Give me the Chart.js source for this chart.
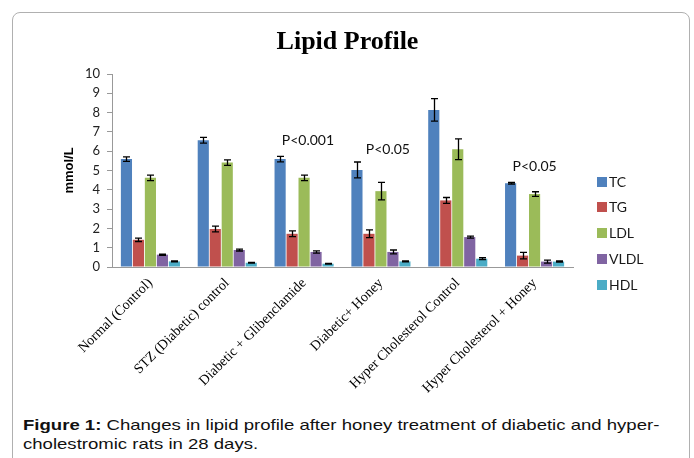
<!DOCTYPE html>
<html>
<head>
<meta charset="utf-8">
<script src="https://cdn.jsdelivr.net/npm/chart.js@4.4.1/dist/chart.umd.min.js"></script>
<style>
  html, body { margin: 0; padding: 0; background: #fff; }
  #wrap { position: relative; width: 694px; height: 458px; overflow: hidden; }
  #frame { position: absolute; left: 12px; top: 12px; width: 678px; height: 470px;
           border: 1.5px solid #b0b0b0; border-radius: 8px; box-sizing: border-box; }
  #chart { position: absolute; left: 0; top: 0; }
  #title { position: absolute; left: 0; width: 695px; top: 26px; text-align: center;
           font-family: "Liberation Serif", "Times New Roman", serif; font-weight: bold;
           font-size: 26px; line-height: 30px; color: #000; }
  #caption { position: absolute; left: 23px; top: 416px; font-family: "Liberation Sans", Arial, sans-serif;
             font-size: 15px; line-height: 18.6px; color: #111; white-space: nowrap;
             transform: scaleX(1.237); transform-origin: 0 0; }
</style>
</head>
<body>
<div id="wrap">
  <div id="frame"></div>
  <canvas id="chart" width="694" height="410"></canvas>
  <div id="title">Lipid Profile</div>
  <div id="caption"><b>Figure 1:</b> Changes in lipid profile after honey treatment of diabetic and hyper-<br>cholestromic rats in 28 days.</div>
</div>
<script>
// ---- data ----
const categories = ["Normal (Control)", "STZ (Diabetic) control", "Diabetic + Glibenclamide",
                    "Diabetic+ Honey", "Hyper Cholesterol Control", "Hyper Cholesterol + Honey"];
const seriesNames = ["TC", "TG", "LDL", "VLDL", "HDL"];
const TC    = [5.59, 6.57, 5.59, 5.03, 8.14, 4.34];
const TG    = [1.41, 1.97, 1.72, 1.72, 3.45, 0.59];
const LDL   = [4.62, 5.41, 4.62, 3.93, 6.10, 3.78];
const VLDL  = [0.64, 0.88, 0.78, 0.78, 1.55, 0.28];
const HDL   = [0.29, 0.22, 0.17, 0.29, 0.43, 0.28];
const TC_err   = [0.12, 0.15, 0.14, 0.41, 0.58, 0.04];
const TG_err   = [0.09, 0.15, 0.15, 0.20, 0.15, 0.17];
const LDL_err  = [0.14, 0.14, 0.14, 0.45, 0.54, 0.12];
const VLDL_err = [0.03, 0.05, 0.06, 0.10, 0.05, 0.08];
const HDL_err  = [0.02, 0.02, 0.02, 0.02, 0.05, 0.03];
const yTicks = [0,1,2,3,4,5,6,7,8,9,10];
const annotations = [
  { category: 2.05, y: 6.53, text: "P<0.001" },
  { category: 3.09, y: 6.09, text: "P<0.05" },
  { category: 5.0,  y: 5.19, text: "P<0.05" }
];
const colors = ["#4F81BD", "#C0504D", "#9BBB59", "#8064A2", "#4BACC6"];
const values = [TC, TG, LDL, VLDL, HDL];
const errors = [TC_err, TG_err, LDL_err, VLDL_err, HDL_err];

const errorBars = {
  id: 'errorBars',
  afterDatasetsDraw(chart) {
    const ctx = chart.ctx, y = chart.scales.y;
    ctx.save();
    ctx.strokeStyle = '#000';
    ctx.lineWidth = 1.3;
    chart.data.datasets.forEach((ds, di) => {
      const meta = chart.getDatasetMeta(di);
      meta.data.forEach((bar, i) => {
        const v = ds.data[i], e = ds.errors[i];
        const yt = y.getPixelForValue(v + e), yb = y.getPixelForValue(v - e);
        const x = Math.round(bar.x) + 0.5;
        ctx.beginPath();
        ctx.moveTo(x, yt); ctx.lineTo(x, yb);
        ctx.moveTo(x - 3.5, yt); ctx.lineTo(x + 3.5, yt);
        ctx.moveTo(x - 3.5, yb); ctx.lineTo(x + 3.5, yb);
        ctx.stroke();
      });
    });
    ctx.restore();
  }
};

const notes = {
  id: 'notes',
  afterDatasetsDraw(chart) {
    const ctx = chart.ctx, xs = chart.scales.x, ys = chart.scales.y;
    ctx.save();
    ctx.font = '14px Lato, "Liberation Sans", sans-serif';
    ctx.fillStyle = '#111';
    ctx.textAlign = 'center';
    ctx.textBaseline = 'middle';
    annotations.forEach(a => {
      ctx.fillText(a.text, xs.getPixelForValue(a.category), ys.getPixelForValue(a.y));
    });
    ctx.restore();
  }
};

const sideLegend = {
  id: 'sideLegend',
  afterDraw(chart) {
    const ctx = chart.ctx, area = chart.chartArea;
    const x0 = area.right + 24, y0 = area.top + 107.5, step = 25.9;
    ctx.save();
    ctx.font = '14px Lato, "Liberation Sans", sans-serif';
    ctx.textBaseline = 'middle';
    ctx.textAlign = 'left';
    chart.data.datasets.forEach((ds, i) => {
      const yc = y0 + i * step;
      ctx.fillStyle = ds.backgroundColor;
      ctx.fillRect(x0, Math.round(yc - 5), 10, 10);
      ctx.fillStyle = '#1a1a1a';
      ctx.fillText(ds.label, x0 + 12, yc + 0.5);
    });
    ctx.restore();
  }
};

new Chart(document.getElementById('chart'), {
  type: 'bar',
  data: {
    labels: categories,
    datasets: seriesNames.map((n, i) => ({
      label: n, data: values[i], errors: errors[i],
      backgroundColor: colors[i], borderWidth: 0,
      categoryPercentage: 0.78, barPercentage: 0.93
    }))
  },
  options: {
    responsive: false,
    animation: false,
    layout: { padding: { left: 58, right: 121, top: 74, bottom: 0 } },
    plugins: {
      title: { display: false },
      legend: { display: false },
      tooltip: { enabled: false }
    },
    scales: {
      x: {
        afterFit(scale) { scale.height = 143; },
        grid: { display: false, drawTicks: false },
        border: { color: '#999', width: 1 },
        ticks: { maxRotation: 45, minRotation: 45, color: '#000', padding: 8, autoSkip: false,
                 font: { family: '"Liberation Serif", "Times New Roman", serif', size: 14 } }
      },
      y: {
        min: 0, max: 10,
        afterFit(scale) { scale.width = 54; },
        afterBuildTicks(scale) { scale.ticks = yTicks.map(v => ({ value: v })); },
        grid: { display: true, drawOnChartArea: false, drawTicks: true, tickLength: 5, color: '#999' },
        border: { color: '#999', width: 1 },
        title: { display: true, text: 'mmol/L', color: '#000', padding: { top: 4, bottom: 4 },
                 font: { family: '"Liberation Sans", Arial, sans-serif', size: 13, weight: 'bold' } },
        ticks: { color: '#222', padding: 7,
                 font: { family: 'Lato, "Liberation Sans", sans-serif', size: 13 } }
      }
    }
  },
  plugins: [errorBars, notes, sideLegend]
});
</script>
</body>
</html>
